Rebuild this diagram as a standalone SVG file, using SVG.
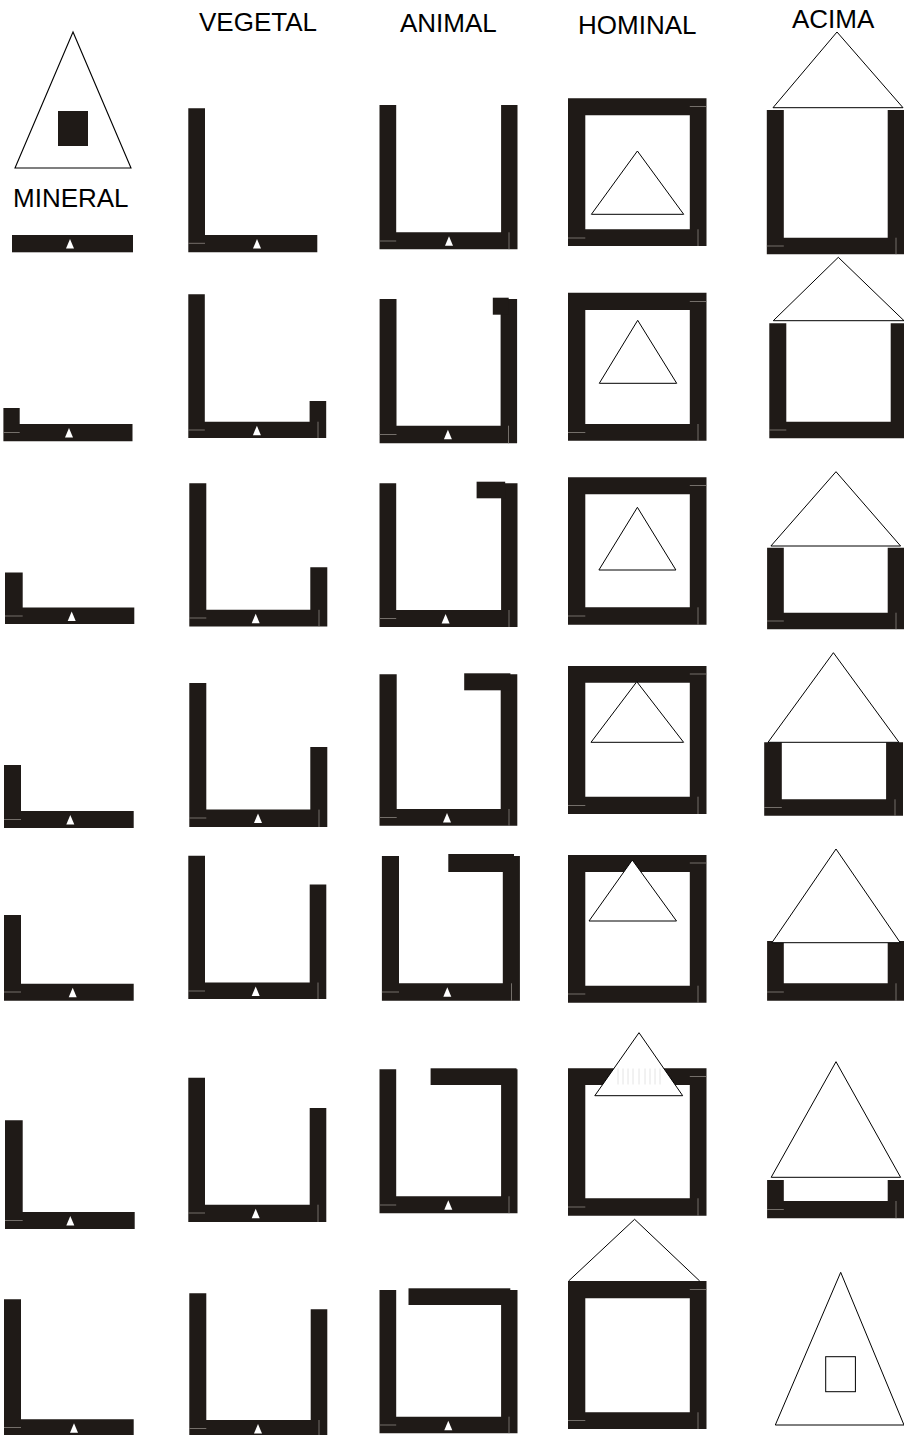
<svg xmlns="http://www.w3.org/2000/svg" width="904" height="1435" viewBox="0 0 904 1435">
<defs>
<style>
.k{fill:#1f1a17}
.t{fill:#fff;stroke:#000;stroke-width:1}
.o{fill:none;stroke:#000;stroke-width:1.1}
.g{fill:none;stroke:#8a8580;stroke-width:0.8}
.s{fill:none;stroke:#e4e4e4;stroke-width:1}
.lbl{font-family:"Liberation Sans",Arial,sans-serif;font-size:26px;fill:#000}
</style>
<path id="m" d="M0,-5L4,4.5H-4Z" fill="#fff"/>
</defs>
<rect width="904" height="1435" fill="#fff"/>

<g id="labels">
<text class="lbl" x="199" y="30.7">VEGETAL</text>
<text class="lbl" x="400" y="31.7">ANIMAL</text>
<text class="lbl" x="578" y="34.3">HOMINAL</text>
<text class="lbl" x="792" y="28.3">ACIMA</text>
<text class="lbl" x="13" y="206.7">MINERAL</text>
</g>

<!-- MINERAL column -->
<g id="mineral-1">
<polygon class="o" points="73,32 15,168 131,168"/>
<rect class="k" x="58" y="111" width="30" height="35"/>
<rect class="k" x="12" y="235" width="121" height="17.3"/>
<use href="#m" x="70" y="244"/>
</g>
<g id="mineral-2">
<path class="k" d="M3.4,408H19.7V424H132.5V441.3H3.4Z"/>
<path class="g" d="M3.4,432.5H19.7"/>
<use href="#m" x="69" y="433"/>
</g>
<g id="mineral-3">
<path class="k" d="M5,572.4H22.7V607.5H134.3V624H5Z"/>
<path class="g" d="M5,616H22.7"/>
<use href="#m" x="71.7" y="616.5"/>
</g>
<g id="mineral-4">
<path class="k" d="M4,765H21V811H133.7V828H4Z"/>
<path class="g" d="M4,819.5H21"/>
<use href="#m" x="70.3" y="820"/>
</g>
<g id="mineral-5">
<path class="k" d="M4,915H21V983.7H133.7V1000.7H4Z"/>
<path class="g" d="M4,992H21"/>
<use href="#m" x="72.7" y="992.7"/>
</g>
<g id="mineral-6">
<path class="k" d="M5,1120.3H22.7V1212H134.7V1229H5Z"/>
<path class="g" d="M5,1220.5H22.7"/>
<use href="#m" x="70.3" y="1221"/>
</g>
<g id="mineral-7">
<path class="k" d="M4,1299.3H21V1419.3H133.7V1436H4Z"/>
<path class="g" d="M4,1427.5H21"/>
<use href="#m" x="74" y="1428.3"/>
</g>

<!-- VEGETAL column -->
<g id="vegetal-1">
<path class="k" d="M188.3,108.3H205V235H317.3V252.3H188.3Z"/>
<path class="g" d="M188.3,243.3H205"/>
<use href="#m" x="257" y="244"/>
</g>
<g id="vegetal-2">
<path class="k" d="M188.3,294.3H204.8V421.7H309.6V401H326.2V438H188.3Z"/>
<path class="g" d="M188.3,430H204.8M318,421.7V438"/>
<use href="#m" x="256.9" y="430.7"/>
</g>
<g id="vegetal-3">
<path class="k" d="M189.3,483.3H206.3V609.8H310.3V567.3H327.3V626.4H189.3Z"/>
<path class="g" d="M189.3,618H206.3M319,609.8V626.4"/>
<use href="#m" x="255.7" y="618.8"/>
</g>
<g id="vegetal-4">
<path class="k" d="M189.3,683H206.3V809.6H310.3V747H327.3V827H189.3Z"/>
<path class="g" d="M189.3,818H206.3M319,809.6V827"/>
<use href="#m" x="258" y="818.6"/>
</g>
<g id="vegetal-5">
<path class="k" d="M188.3,855.7H205V982.5H309.7V884.4H326.3V999H188.3Z"/>
<path class="g" d="M188.3,991H205M318,982.5V999"/>
<use href="#m" x="255.7" y="991.5"/>
</g>
<g id="vegetal-6">
<path class="k" d="M188.3,1077.7H205V1204.7H309.7V1108H326.3V1222H188.3Z"/>
<path class="g" d="M188.3,1213H205M318,1204.7V1222"/>
<use href="#m" x="255.7" y="1213.7"/>
</g>
<g id="vegetal-7">
<path class="k" d="M189.3,1293.3H206.3V1420H310.7V1309.3H327.3V1437H189.3Z"/>
<path class="g" d="M189.3,1428.5H206.3M319,1420V1437"/>
<use href="#m" x="258" y="1429"/>
</g>

<!-- ANIMAL column -->
<g id="animal-1">
<path class="k" d="M379.5,105H396.2V232.3H501.1V105H517.5V249.3H379.5Z"/>
<path class="g" d="M379.5,241H396.2M509,232.3V249.3"/>
<use href="#m" x="449" y="241.3"/>
</g>
<g id="animal-2">
<path class="k" d="M379.6,299H396.5V425.7H500.6V299H517.1V443.3H379.6Z"/>
<rect class="k" x="492.8" y="297.7" width="15.9" height="17"/>
<path class="g" d="M379.6,434.5H396.5M508.5,425.7V443.3"/>
<use href="#m" x="447.9" y="434.7"/>
</g>
<g id="animal-3">
<path class="k" d="M379.5,483.3H396.2V610H501.1V483.3H517.5V627H379.5Z"/>
<rect class="k" x="476.6" y="481.7" width="28.6" height="16.6"/>
<path class="g" d="M379.5,618.5H396.2M509,610V627"/>
<use href="#m" x="445.6" y="619"/>
</g>
<g id="animal-4">
<path class="k" d="M379.5,674.3H396.7V809H500.7V674.3H517.3V825.7H379.5Z"/>
<rect class="k" x="464.2" y="673.3" width="46.2" height="17"/>
<path class="g" d="M379.5,817.5H396.7M509,809V825.7"/>
<use href="#m" x="447" y="818"/>
</g>
<g id="animal-5">
<path class="k" d="M381.9,856H399V983.3H502.8V856H519.9V1000.7H381.9Z"/>
<rect class="k" x="448.3" y="854" width="65.7" height="18"/>
<path class="g" d="M381.9,992H399M511.5,983.3V1000.7"/>
<use href="#m" x="447.3" y="992.3"/>
</g>
<g id="animal-6">
<path class="k" d="M379.5,1069.3H396.2V1196.3H501.1V1069.3H517.5V1213.3H379.5Z"/>
<rect class="k" x="430.6" y="1068.3" width="85.9" height="16.7"/>
<path class="g" d="M379.5,1205H396.2M509,1196.3V1213.3"/>
<use href="#m" x="448.3" y="1205.3"/>
</g>
<g id="animal-7">
<path class="k" d="M379.5,1290H396.2V1416.7H501.1V1290H517.5V1433.3H379.5Z"/>
<rect class="k" x="408.5" y="1288.3" width="101.8" height="16.7"/>
<path class="g" d="M379.5,1425H396.2M509,1416.7V1433.3"/>
<use href="#m" x="448.3" y="1425.7"/>
</g>

<!-- HOMINAL column -->
<g id="hominal-1">
<path class="k" fill-rule="evenodd" d="M568,98.3H706.5V246H568ZM585.3,115.3V229.3H689.8V115.3Z"/>
<path class="g" d="M568,238H585.3M698,229.3V246M689.8,106.5H706.5"/>
<polygon class="t" points="637.4,151 591.4,214.3 683.7,214.3"/>
</g>
<g id="hominal-2">
<path class="k" fill-rule="evenodd" d="M568,292.7H706.5V440.7H568ZM585.3,310V424H689.8V310Z"/>
<path class="g" d="M568,432.5H585.3M698,424V440.7M689.8,301.5H706.5"/>
<polygon class="t" points="637.7,320.3 599.3,383.3 676.7,383.3"/>
</g>
<g id="hominal-3">
<path class="k" fill-rule="evenodd" d="M568,477.3H706.5V624.7H568ZM585.3,494.3V607.3H689.8V494.3Z"/>
<path class="g" d="M568,616H585.3M698,607.3V624.7M689.8,485.5H706.5"/>
<polygon class="t" points="637.4,507.3 598.9,570 675.9,570"/>
</g>
<g id="hominal-4">
<path class="k" fill-rule="evenodd" d="M568,666H706.5V814H568ZM585.3,682.7V796.7H689.8V682.7Z"/>
<path class="g" d="M568,805.5H585.3M698,796.7V814M689.8,674H706.5"/>
<polygon class="t" points="636.8,681.7 591,742.3 683.6,742.3"/>
</g>
<g id="hominal-5">
<path class="k" fill-rule="evenodd" d="M568,855H706.5V1002.7H568ZM585.3,872V985.7H689.8V872Z"/>
<path class="g" d="M568,994H585.3M698,985.7V1002.7M689.8,863H706.5"/>
<polygon class="t" points="632.3,860 589,921 676.5,921"/>
</g>
<g id="hominal-6">
<path class="k" fill-rule="evenodd" d="M568,1068.3H706.5V1215.7H568ZM585.3,1085V1198.3H689.8V1085Z"/>
<path class="g" d="M568,1207H585.3M698,1198.3V1215.7M689.8,1076.5H706.5"/>
<polygon class="t" points="639,1032.7 594.8,1095.7 682.7,1095.7"/>
<path class="s" d="M618,1068.5V1084.5M623,1068.5V1084.5M628,1068.5V1084.5M633,1068.5V1084.5M639,1068.5V1084.5M645,1068.5V1084.5M650,1068.5V1084.5M655,1068.5V1084.5M660,1068.5V1084.5"/>
</g>
<g id="hominal-7">
<path class="k" fill-rule="evenodd" d="M568,1281H706.5V1429H568ZM585.3,1298.3V1412.3H689.8V1298.3Z"/>
<path class="g" d="M568,1420.5H585.3M698,1412.3V1429M689.8,1289.5H706.5"/>
<polyline class="o" style="stroke-width:1" points="568.6,1281 634.6,1219.3 699.7,1281"/>
</g>

<!-- ACIMA column -->
<g id="acima-1">
<path class="k" d="M766.8,110H783.8V237.7H887.7V110H904V254.3H766.8Z"/>
<path class="g" d="M766.8,246H783.8M896,237.7V254.3"/>
<polygon class="t" points="837,32 773,107.7 903,107.7"/>
</g>
<g id="acima-2">
<path class="k" d="M769.3,323.3H786.3V421.7H890.7V323.3H906V438.3H769.3Z"/>
<path class="g" d="M769.3,430H786.3"/>
<polygon class="t" points="838.3,257.3 773.3,320.7 904,320.7"/>
</g>
<g id="acima-3">
<path class="k" d="M767.1,547.7H783.8V612.7H887.7V547.7H904V629.3H767.1Z"/>
<path class="g" d="M767.1,621H783.8M896,612.7V629.3"/>
<polygon class="t" points="836,471.7 770.9,546 900.6,546"/>
</g>
<g id="acima-4">
<path class="k" d="M764.2,742.3H781.8V799.3H886.1V742.3H903V815.7H764.2Z"/>
<path class="g" d="M764.2,807.5H781.8M895,799.3V815.7"/>
<polygon class="t" points="833.4,652.7 768,742.3 898.9,742.3"/>
</g>
<g id="acima-5">
<path class="k" d="M767.1,941H783.8V983.3H887.7V941H904V1000.7H767.1Z"/>
<path class="g" d="M767.1,992H783.8M896,983.3V1000.7"/>
<polygon class="t" points="836,849 771.9,942.7 900.3,942.7"/>
</g>
<g id="acima-6">
<path class="k" d="M767.1,1180H783.8V1201H887.7V1180H904V1218.3H767.1Z"/>
<path class="g" d="M767.1,1209.5H783.8M896,1201V1218.3"/>
<polygon class="t" points="836,1061.7 771.2,1177.3 900.6,1177.3"/>
</g>
<g id="acima-7">
<polygon class="t" points="840.7,1272.3 775.3,1425 904,1425"/>
<rect class="t" x="825.7" y="1356.7" width="29.7" height="35"/>
</g>
</svg>
